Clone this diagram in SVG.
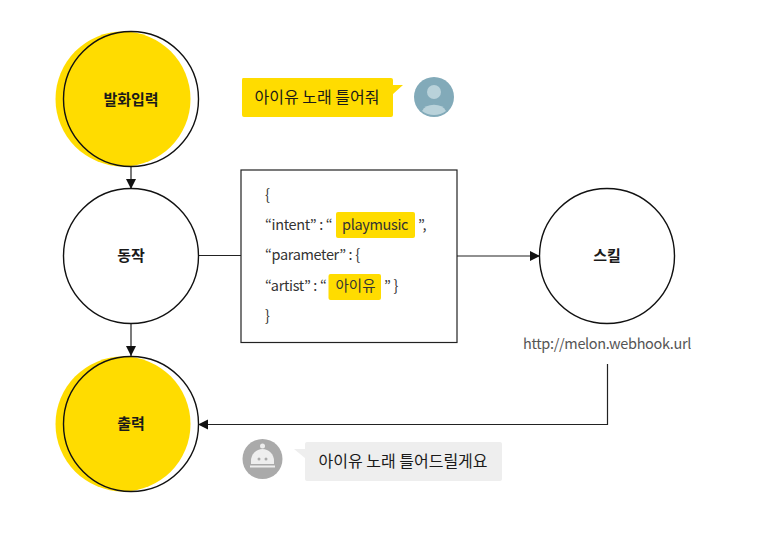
<svg xmlns="http://www.w3.org/2000/svg" width="768" height="533" viewBox="0 0 768 533">
<style>
text{font-family:"Noto Sans CJK KR","Noto Sans",sans-serif;fill:#1a1a1a}
.n{font-size:15px;font-weight:700;text-anchor:middle}
.c{font-size:14.500px;fill:#333;letter-spacing:-.35px}
.k{font-size:14.500px;fill:#333}
.b{font-size:16px;text-anchor:middle}
.o{fill:none;stroke:#111;stroke-width:1.400}
.l{fill:none;stroke:#222;stroke-width:1.200}
.y{fill:#ffdc00}
</style>
<defs>
<marker id="a" markerUnits="userSpaceOnUse" markerWidth="11" markerHeight="11" refX="10" refY="5.500" orient="auto"><path d="M0 .5L10 5.500L0 10.500Z" fill="#111"/></marker>
</defs>
<rect width="768" height="533" fill="#fff"/>
<g id="connectors">
<path class="l" d="M131 166V189" marker-end="url(#a)"/>
<path class="l" d="M131 323V356" marker-end="url(#a)"/>
<path class="l" d="M198 255.500H241"/>
<path class="l" d="M457 256H540" marker-end="url(#a)"/>
<path class="l" d="M607.500 364V424.500H198" marker-end="url(#a)"/>
</g>
<g id="node-input">
<circle class="y" cx="123" cy="99" r="67.500"/>
<circle class="o" cx="131" cy="99" r="67.500"/>
<text class="n" x="131" y="105">발화입력</text>
</g>
<g id="node-action">
<circle class="o" cx="131" cy="256" r="67.500" fill="#fff"/>
<text class="n" x="131" y="261">동작</text>
</g>
<g id="node-output">
<circle class="y" cx="123" cy="424" r="67.500"/>
<circle class="o" cx="131" cy="424" r="67.500"/>
<text class="n" x="131" y="429">출력</text>
</g>
<g id="node-skill">
<circle class="o" cx="607" cy="256" r="67.500" fill="#fff"/>
<text class="n" x="607" y="261">스킬</text>
<text x="607" y="349" font-size="14.500" text-anchor="middle" letter-spacing="-.35" style="fill:#555">http://melon.webhook.url</text>
</g>
<g id="node-json">
<rect x="241" y="170" width="216" height="172.500" fill="#fff" stroke="#222" stroke-width="1.200"/>
<rect class="y" x="336" y="212" width="79" height="26" rx="2"/>
<rect class="y" x="328.500" y="274" width="52.500" height="26" rx="2"/>
<text class="c" x="265" y="200">{</text>
<text class="c" x="265" y="230">“intent” : “</text>
<text class="c" x="342" y="230">playmusic</text>
<text class="c" x="418" y="230">”,</text>
<text class="c" x="265" y="260">“parameter” : {</text>
<text class="c" x="265" y="291">“artist” : “</text>
<text class="k" x="335.500" y="291">아이유</text>
<text class="c" x="384" y="291">” }</text>
<text class="c" x="265" y="321">}</text>
</g>
<g id="node-user-bubble">
<path class="y" d="M243 78H391Q393 78 393 80V85L403 85L393 94V115Q393 117 391 117H244Q242 117 242 115V80Q242 78 243 78Z"/>
<text class="b" x="317" y="103">아이유 노래 틀어줘</text>
<circle cx="434" cy="97" r="20" fill="#82aab9"/>
<circle cx="434" cy="92" r="7" fill="#b9d2da"/>
<path d="M422 111A13 10 0 0 1 446 111A20 20 0 0 1 422 111Z" fill="#b9d2da"/>
</g>
<g id="node-bot-bubble">
<path d="M307 442H500Q502 442 502 444V479Q502 481 500 481H307Q305 481 305 479V458L294 449L305 449V444Q305 442 307 442Z" fill="#eee"/>
<text class="b" x="403" y="467">아이유 노래 틀어드릴게요</text>
<circle cx="262.500" cy="459" r="20" fill="#aaa"/>
<circle cx="262.500" cy="446" r="2.500" fill="#eee"/>
<path d="M251 461A11.500 12 0 0 1 274 461V464H251Z" fill="#eee"/>
<rect x="250" y="465.500" width="25" height="2" fill="#eee"/>
<circle cx="259" cy="459" r="1.500" fill="#aaa"/>
<circle cx="266" cy="459" r="1.500" fill="#aaa"/>
</g>
</svg>
